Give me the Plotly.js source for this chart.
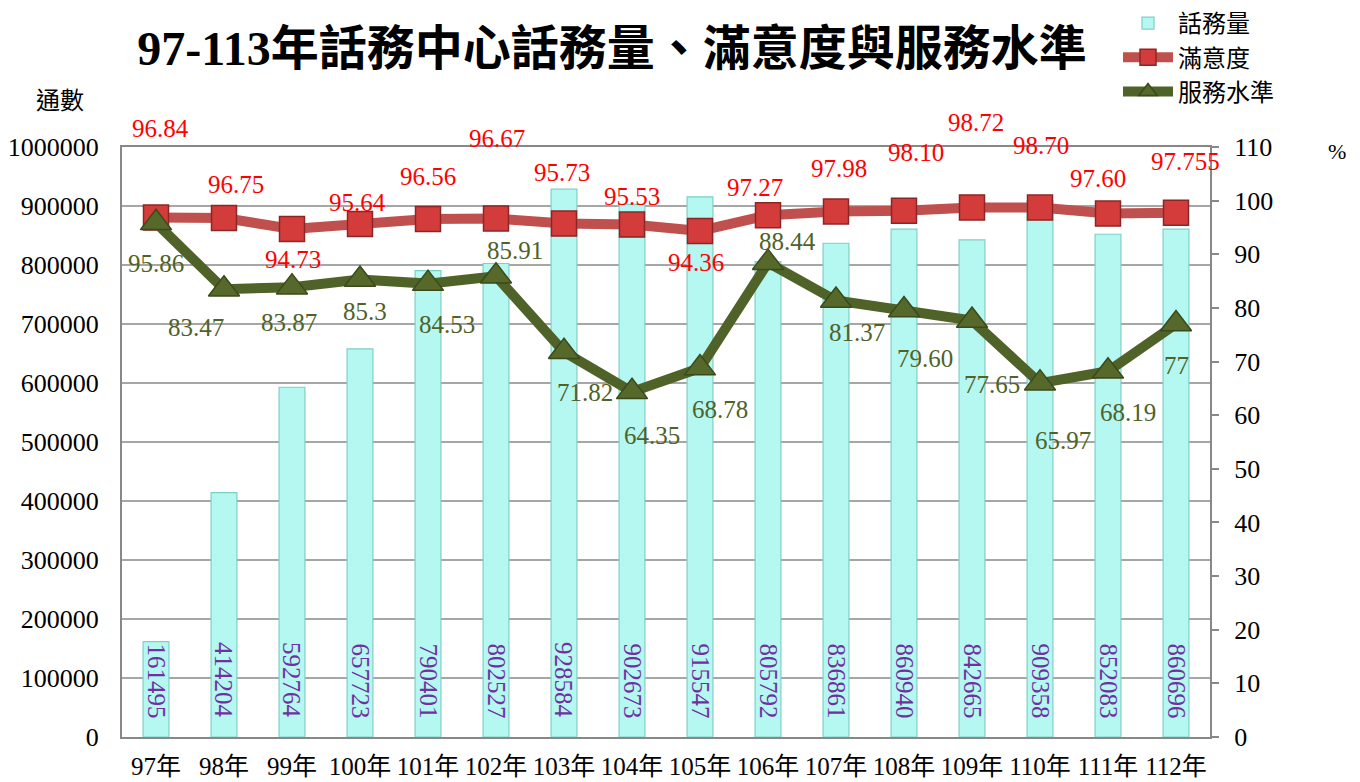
<!DOCTYPE html>
<html>
<head>
<meta charset="utf-8">
<script src="https://cdn.plot.ly/plotly-3.0.1.min.js"></script>
<style>
html,body{margin:0;padding:0;background:#fff;}
#chart{width:1360px;height:782px;}
</style>
</head>
<body>
<div id="chart"></div>
<script>
// ---- data ----
const years = ['97年','98年','99年','100年','101年','102年','103年','104年','105年','106年','107年','108年','109年','110年','111年','112年'];
const calls = [161495, 414204, 592764, 657723, 790401, 802527, 928584, 902673, 915547, 805792, 836861, 860940, 842665, 909358, 852083, 860696];
const satisfaction = [96.84, 96.75, 94.73, 95.64, 96.56, 96.67, 95.73, 95.53, 94.36, 97.27, 97.98, 98.10, 98.72, 98.70, 97.60, 97.755];
const satisfactionLabels = ['96.84','96.75','94.73','95.64','96.56','96.67','95.73','95.53','94.36','97.27','97.98','98.10','98.72','98.70','97.60','97.755'];
const serviceLevel = [95.86, 83.47, 83.87, 85.3, 84.53, 85.91, 71.82, 64.35, 68.78, 88.44, 81.37, 79.60, 77.65, 65.97, 68.19, 77];
const serviceLabels = ['95.86','83.47','83.87','85.3','84.53','85.91','71.82','64.35','68.78','88.44','81.37','79.60','77.65','65.97','68.19','77'];

// ---- label placement (pixel offsets from each marker) ----
const satDx = [4, 12, 1, -3, 0, 1, -2, 0, -4, -13, 3, 12, 4, 1, -10, 9];
const satDy = [-89, -34, 31, -22, -43, -80, -51, -28, 32, -28, -43, -58, -85, -62, -35, -51];
const svcDx = [0, -28, -3, 5, 19, 19, 21, 20, 20, 19, 21, 21, 20, 23, 20, 0];
const svcDy = [41, 38, 35, 32, 41, -26, 41, 44, 41, -21, 32, 48, 64, 57, 41, 41];

const NUM_FONT = '"Liberation Serif", "Noto Sans CJK TC", serif';
const CJK_FONT = '"Liberation Serif", "Noto Sans CJK TC", sans-serif';

const L = 122, R = 150, T = 147, B = 45, W = 1360, H = 782;
const pw = W - L - R, ph = H - T - B;
const px2x = p => (p - L) / pw;
const px2y = p => (H - B - p) / ph;

const traces = [
  {
    type: 'bar', name: '話務量', x: years, y: calls, yaxis: 'y',
    marker: {color: '#B5F7F1', line: {color: '#7FCFC6', width: 1.2}},
    legendgroup: 'a'
  },
  {
    type: 'scatter', mode: 'lines+markers', name: '滿意度', x: years, y: satisfaction, yaxis: 'y2',
    line: {color: '#C0504D', width: 10},
    marker: {symbol: 'square', size: 25, color: '#D43B3B', line: {color: '#8C2626', width: 1.5}},
    legendgroup: 'b'
  },
  {
    type: 'scatter', mode: 'lines+markers', name: '服務水準', x: years, y: serviceLevel, yaxis: 'y2',
    line: {color: '#4F6228', width: 10},
    marker: {symbol: 'triangle-up', size: 27, color: '#56692B', line: {color: '#3A4A1A', width: 1.5}},
    legendgroup: 'c'
  }
];

const annotations = [];
years.forEach((yr, i) => {
  annotations.push({
    x: yr, y: satisfaction[i], xref: 'x', yref: 'y2', text: satisfactionLabels[i],
    showarrow: false, xshift: satDx[i], yshift: -satDy[i],
    font: {family: NUM_FONT, size: 25, color: '#FF0000'}
  });
  annotations.push({
    x: yr, y: serviceLevel[i], xref: 'x', yref: 'y2', text: serviceLabels[i],
    showarrow: false, xshift: svcDx[i], yshift: -svcDy[i],
    font: {family: NUM_FONT, size: 25, color: '#4F6228'}
  });
  annotations.push({
    x: yr, y: 0, xref: 'x', yref: 'y', text: String(calls[i]),
    showarrow: false, textangle: 90, yanchor: 'bottom', yshift: 17,
    font: {family: NUM_FONT, size: 25, color: '#7030A0'}
  });
});
annotations.push({
  xref: 'paper', yref: 'paper', x: px2x(60), y: px2y(101), xanchor: 'center', yanchor: 'middle',
  text: '通數', showarrow: false,
  font: {family: CJK_FONT, size: 24, color: '#000'}
});
annotations.push({
  xref: 'paper', yref: 'paper', x: px2x(1337), y: px2y(151), xanchor: 'center', yanchor: 'middle',
  text: '%', showarrow: false,
  font: {family: NUM_FONT, size: 22, color: '#000'}
});

const layout = {
  width: W, height: H,
  margin: {l: L, r: R, t: T, b: B, autoexpand: false},
  paper_bgcolor: '#fff', plot_bgcolor: '#fff',
  title: {
    text: '<b>97-113年話務中心話務量、滿意度與服務水準</b>',
    font: {family: CJK_FONT, size: 48, color: '#000'},
    x: 612 / W, xanchor: 'center', xref: 'container',
    y: 1 - 48 / H, yanchor: 'middle', yref: 'container'
  },
  showlegend: true,
  legend: {
    x: px2x(1118), y: px2y(1), xanchor: 'left', yanchor: 'top',
    font: {family: CJK_FONT, size: 24, color: '#000'},
    bgcolor: 'rgba(0,0,0,0)', tracegroupgap: 10, itemwidth: 50,
    traceorder: 'normal'
  },
  bargap: 0.62,
  xaxis: {
    type: 'category', range: [-0.5, years.length - 0.5],
    showline: true, linecolor: '#888', linewidth: 2, mirror: true,
    showgrid: false, ticks: '', ticklabelstandoff: 6,
    tickfont: {family: NUM_FONT, size: 25, color: '#000'}
  },
  yaxis: {
    range: [0, 1000000], dtick: 100000, tickformat: 'd',
    showline: true, linecolor: '#888', linewidth: 2,
    showgrid: true, gridcolor: '#A6A6A6', gridwidth: 1.5, zeroline: false,
    ticks: '', ticklabelstandoff: 16,
    tickfont: {family: NUM_FONT, size: 26, color: '#000'}
  },
  yaxis2: {
    range: [0, 110], dtick: 10, overlaying: 'y', side: 'right',
    showline: true, linecolor: '#888', linewidth: 2, showgrid: false, zeroline: false,
    ticks: 'outside', ticklen: 7, tickcolor: '#888', tickwidth: 2, ticklabelstandoff: 10,
    tickfont: {family: NUM_FONT, size: 26, color: '#000'}
  },
  annotations: annotations
};

Plotly.newPlot('chart', traces, layout, {displayModeBar: false, staticPlot: true});
</script>
</body>
</html>
